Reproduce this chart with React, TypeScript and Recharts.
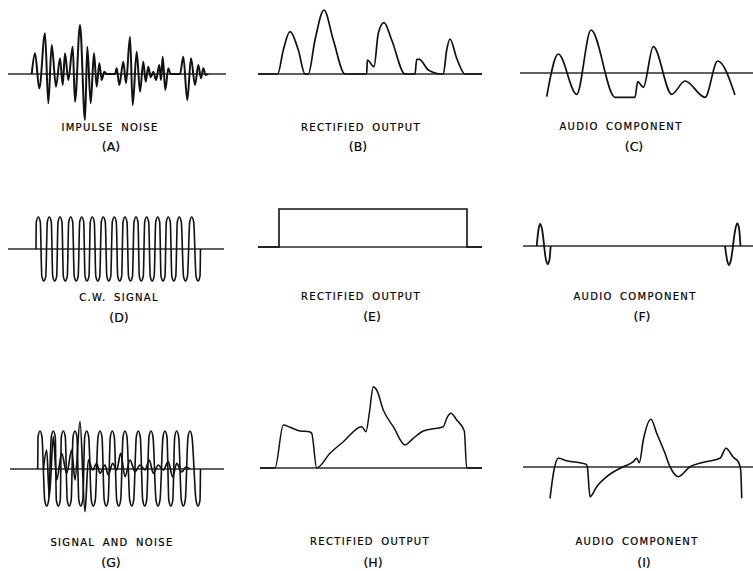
/**
 * Noise limiter waveforms
 * Nine small traces (A-I): input, rectified output and audio component
 * for impulse noise, a C.W. signal, and the two together.
 */

import React from 'react'
import { LineChart, Line, XAxis, YAxis, ReferenceLine } from 'recharts'

// x = px along the trace from its left end, v = px above the trace baseline

// (A) impulse noise
const impulseX = [
  23.7, 27, 31.3, 37, 40.3, 43.7, 48, 52, 54.7, 57, 60.3, 64.7, 67, 72, 77, 79.3, 82.7, 86, 88.7, 91.3,
  93.7, 96.3, 98.7, 107, 108.7, 111.3, 115.3, 118, 122, 124.7, 128.7, 132, 135.3, 137.7, 140.3, 142.7,
  145.3, 148, 151.3, 153, 154.7, 157.3, 160.3, 162.7, 172, 175.3, 179.3, 183, 187, 190.3, 193, 195.3,
  197.7, 200.3
]
const impulseV = [
  0, 20.7, -14.3, 40.7, -29.3, 29, -12.7, 15.7, -11, 20.7, -6, 27.3, -27.7, 49, -46, 27.3, -29.3, 20.7, -12.7, 10.7,
  -6, 2.3, 0, 0, 5.7, -11, 12.3, -9.3, 37.3, -31, 22.3, -17.7, 12.3, -7.7, 7.3, -3.3,
  2.3, -6, 9, -6, 17.3, -16, 5.7, 0, 0, 17.3, -26, 15.7, -11, 9, -4.3, 5.7,
  -1, 0
]

// (B) rectified output of the noise
const rectNoiseX = [
  0, 19.7, 25.3, 32, 40.3, 47, 50.3, 57, 66, 75.3, 87, 108.7, 109.3, 116, 120.3, 126, 133.7, 147,
  157, 158.7, 161.3, 170.3, 183.7, 185.3, 188.7, 192, 198.7, 207, 224
]
const rectNoiseV = [
  0, 0, 24, 42.3, 24, 0, 0, 34, 64, 34, 0, 0, 14, 7.3, 40.7, 51.3, 34, 0,
  0, 14.7, 14.7, 4, 0, 0, 24, 35, 15.7, 0, 0
]

// (C) audio component of the noise
const audioNoiseX = [26.7, 38.3, 56.7, 71, 95, 115, 117.7, 123.3, 133.3, 151.7, 165, 185, 197.7, 215]
const audioNoiseV = [-23.7, 19, -21.3, 43, -24.3, -24.3, -8.7, -14.3, 26.3, -21.3, -8, -24.3, 12, -22]

// (D) C.W. signal, each lobe read as shoulder / crest / shoulder
const cwX = [
  28,
  28.3, 30.3, 32.3, 33.8, 35.8, 37.8,
  39.3, 41.3, 43.3, 44.7, 46.7, 48.7,
  50, 52, 54, 55.3, 57.3, 59.3,
  60.7, 62.7, 64.7, 66.2, 68.2, 70.2,
  71.7, 73.7, 75.7, 77, 79, 81,
  82.3, 84.3, 86.3, 87.8, 89.8, 91.8,
  93.3, 95.3, 97.3, 98.8, 100.8, 102.8,
  104.3, 106.3, 108.3, 109.7, 111.7, 113.7,
  115, 117, 119, 120.5, 122.5, 124.5,
  126, 128, 130, 131.3, 133.3, 135.3,
  136.7, 138.7, 140.7, 142.2, 144.2, 146.2,
  147.7, 149.7, 151.7, 153, 155, 157,
  158.3, 160.3, 162.3, 163.8, 165.8, 167.8,
  169.3, 171.3, 173.3, 175.5, 177.5, 179.5,
  181.7, 183.7, 185.7, 188, 190, 192,
  192.5
]
const cwV = [
  0,
  27, 32, 27, -27, -32, -27,
  27, 32, 27, -27, -32, -27,
  27, 32, 27, -27, -32, -27,
  27, 32, 27, -27, -32, -27,
  27, 32, 27, -27, -32, -27,
  27, 32, 27, -27, -32, -27,
  27, 32, 27, -27, -32, -27,
  27, 32, 27, -27, -32, -27,
  27, 32, 27, -27, -32, -27,
  27, 32, 27, -27, -32, -27,
  27, 32, 27, -27, -32, -27,
  27, 32, 27, -27, -32, -27,
  27, 32, 27, -27, -32, -27,
  27, 32, 27, -27, -32, -27,
  27, 32, 27, -27, -32, -27,
  0
]

// (E) rectified C.W. signal
const rectCwX = [0, 21, 21, 209, 209, 224]
const rectCwV = [0, 0, 38, 38, 0, 0]

// (F) audio component of the C.W. signal (gap between the two pulses)
const audioCwX = [13.7, 15.6, 17.3, 19, 23, 24.7, 26.4, 27.7, 100, 202, 204.3, 206, 207.7, 212.6, 214.3, 216, 217.5]
const audioCwV: (number | null)[] = [0, 17, 22, 17, -14, -18, -14, 0, null, 0, -15, -19, -15, 18, 22.7, 18, 0]

// (G) signal and noise
const mixSignalX = [
  27.7,
  28, 30, 32, 34.7, 36.7, 38.7,
  41.3, 43.3, 45.3, 46.3, 48.3, 50.3,
  51.3, 53.3, 55.3, 57.2, 59.2, 61.2,
  63, 65, 67, 68.8, 70.8, 72.8,
  74.7, 76.7, 78.7, 81.3, 83.3, 85.3,
  88, 90, 92, 94.2, 96.2, 98.2,
  100.3, 102.3, 104.3, 106.7, 108.7, 110.7,
  113, 115, 117, 119.7, 121.7, 123.7,
  126.3, 128.3, 130.3, 132.7, 134.7, 136.7,
  139, 141, 143, 146, 148, 150,
  153, 155, 157, 158.8, 160.8, 162.8,
  164.7, 166.7, 168.7, 171.3, 173.3, 175.3,
  178, 180, 182, 186, 188, 190,
  190.5
]
const mixSignalV = [
  0,
  32, 38, 32, -31, -37, -31,
  32, 38, 32, -31, -37, -31,
  32, 38, 32, -31, -37, -31,
  32, 38, 32, -31, -37, -31,
  32, 38, 32, -31, -37, -31,
  32, 38, 32, -31, -37, -31,
  32, 38, 32, -31, -37, -31,
  32, 38, 32, -31, -37, -31,
  32, 38, 32, -31, -37, -31,
  32, 38, 32, -31, -37, -31,
  32, 38, 32, -31, -37, -31,
  32, 38, 32, -31, -37, -31,
  32, 38, 32, -31, -37, -31,
  0
]
const mixNoiseX = [
  33.3, 36.7, 39.3, 43.3, 46.7, 51.7, 56.7, 61.7, 65, 70, 75, 78.3, 82.7, 86.7, 90, 95, 98.3, 102.7,
  106.7, 110.7, 115, 120, 125, 130, 135, 139.3, 143.3, 148.3, 153.3, 158.3, 162.7, 166.7, 171.7, 176, 180
]
const mixNoiseV = [
  -1, 19, -27.7, 32.3, -11, 15.7, -4.3, 19, -11, 47.3, -42.7, 9, -1, 5.7, -4.3, 4, -6, 5.7,
  -1, 15.7, -7.7, 9, -2.7, 4, -1, 9, -4.3, 4, -1, 7.3, -8, 5.7, -3, 2, 0
]

// (H) rectified signal and noise
const rectMixX = [
  0, 15, 23.3, 30, 40, 49.3, 51.7, 56.7, 70, 83.3, 101.7, 106, 109.3, 113.3, 116.7, 123.3,
  133.3, 145, 153.3, 163.3, 183.3, 186.7, 191, 196.7, 204.3, 206.7, 222
]
const rectMixV = [
  0, 0, 43, 40.7, 37, 36.3, 34.7, 0, 14.7, 26.3, 41.3, 36.3, 54.7, 81.3, 78, 58,
  41.3, 23, 29.7, 37, 41.3, 49.7, 54.7, 48, 37, 0, 0
]

// (I) audio component of signal and noise
const audioMixX = [
  27, 31, 35.3, 43.7, 63, 64.3, 67, 73.7, 83.7, 100.3, 110.3, 113.7, 116.3, 120.3, 128, 133.7,
  142, 147, 155.3, 167, 180.3, 197, 203, 210.3, 215.3, 217.7, 218.7
]
const audioMixV = [
  -31.3, -3, 8.7, 6.3, 2.7, 0.3, -29.7, -19.7, -9.7, 0.3, 5.3, 8.7, 4.3, 27, 47.7, 33.7,
  13.7, 0.3, -9.7, 0.3, 4.7, 8.7, 18.7, 9.7, 5.3, -3, -31.3
]

// Captions under each trace
const captionTexts = [
  'IMPULSE NOISE', 'RECTIFIED OUTPUT', 'AUDIO COMPONENT',
  'C.W. SIGNAL', 'RECTIFIED OUTPUT', 'AUDIO COMPONENT',
  'SIGNAL AND NOISE', 'RECTIFIED OUTPUT', 'AUDIO COMPONENT'
]
const captionTags = ['(A)', '(B)', '(C)', '(D)', '(E)', '(F)', '(G)', '(H)', '(I)']

const zip = (xs: number[], vs: (number | null)[]) => xs.map((x, i) => ({ x, v: vs[i] }))

interface Trace {
  xs: number[]
  vs: (number | null)[]
  curve?: 'monotone' | 'linear'
  width?: number
}

interface PanelProps {
  /** left edge of the baseline, page px */
  left: number
  /** baseline height on the page */
  baseY: number
  /** baseline length */
  width: number
  /** room above / below the baseline */
  up: number
  down: number
  traces: Trace[]
}

const PAD = 3
const INK = '#111'

const Panel: React.FC<PanelProps> = ({ left, baseY, width, up, down, traces }) => {
  const height = up + down + PAD * 2
  return (
    <div style={{ position: 'absolute', left, top: baseY - up - PAD }}>
      <LineChart width={width} height={height} margin={{ top: 0, right: 0, bottom: 0, left: 0 }}>
        <XAxis type="number" dataKey="x" domain={[0, width]} hide allowDataOverflow />
        <YAxis type="number" domain={[-down - PAD, up + PAD]} hide allowDataOverflow />
        <ReferenceLine y={0} stroke="#2b2b2b" strokeWidth={1.4} />
        {traces.map((t, i) => (
          <Line
            key={i}
            data={zip(t.xs, t.vs)}
            dataKey="v"
            type={t.curve ?? 'monotone'}
            stroke={INK}
            strokeWidth={t.width ?? 1.8}
            dot={false}
            activeDot={false}
            isAnimationActive={false}
          />
        ))}
      </LineChart>
    </div>
  )
}

// page positions of the nine panels
const panels: PanelProps[] = [
  { left: 8, baseY: 74, width: 218, up: 52, down: 50, traces: [{ xs: impulseX, vs: impulseV, width: 2 }] },
  { left: 258, baseY: 74, width: 224, up: 66, down: 2, traces: [{ xs: rectNoiseX, vs: rectNoiseV, width: 1.7 }] },
  { left: 520, baseY: 73, width: 233, up: 45, down: 27, traces: [{ xs: audioNoiseX, vs: audioNoiseV, width: 1.7 }] },
  { left: 8, baseY: 249, width: 216, up: 33, down: 33, traces: [{ xs: cwX, vs: cwV, width: 1.6 }] },
  { left: 258, baseY: 247, width: 224, up: 40, down: 2, traces: [{ xs: rectCwX, vs: rectCwV, curve: 'linear', width: 1.6 }] },
  { left: 523, baseY: 246, width: 230, up: 24, down: 21, traces: [{ xs: audioCwX, vs: audioCwV }] },
  {
    left: 10, baseY: 469, width: 214, up: 49, down: 44,
    traces: [{ xs: mixSignalX, vs: mixSignalV, width: 1.6 }, { xs: mixNoiseX, vs: mixNoiseV, width: 1.7 }]
  },
  { left: 260, baseY: 468, width: 222, up: 83, down: 2, traces: [{ xs: rectMixX, vs: rectMixV, width: 1.5 }] },
  { left: 523, baseY: 467, width: 230, up: 50, down: 33, traces: [{ xs: audioMixX, vs: audioMixV, width: 1.6 }] }
]

const captionPos = [
  { x: 110, y: 128, tx: 111, ty: 147 },
  { x: 361, y: 128, tx: 358, ty: 147 },
  { x: 621, y: 127, tx: 634, ty: 147 },
  { x: 119, y: 298, tx: 119, ty: 318 },
  { x: 361, y: 297, tx: 372, ty: 317 },
  { x: 635, y: 297, tx: 642, ty: 317 },
  { x: 112, y: 543, tx: 111, ty: 563 },
  { x: 370, y: 542, tx: 373, ty: 563 },
  { x: 637, y: 542, tx: 644, ty: 563 }
]

const textStyle: React.CSSProperties = {
  position: 'absolute',
  transform: 'translate(-50%, -50%)',
  whiteSpace: 'nowrap',
  fontFamily: '"DejaVu Sans", sans-serif',
  color: '#000',
  WebkitTextStroke: '0.2px #000',
  lineHeight: 1
}

export default function App() {
  return (
    <div style={{ position: 'absolute', left: 0, top: 0, width: 753, height: 571, background: '#fff', overflow: 'hidden' }}>
      {panels.map((p, i) => (
        <Panel key={i} {...p} />
      ))}
      {captionPos.map((c, i) => (
        <React.Fragment key={i}>
          <div style={{ ...textStyle, left: c.x, top: c.y, fontSize: 10, letterSpacing: 1.3, wordSpacing: 3 }}>
            {captionTexts[i]}
          </div>
          <div style={{ ...textStyle, left: c.tx, top: c.ty, fontSize: 12.5 }}>{captionTags[i]}</div>
        </React.Fragment>
      ))}
    </div>
  )
}
